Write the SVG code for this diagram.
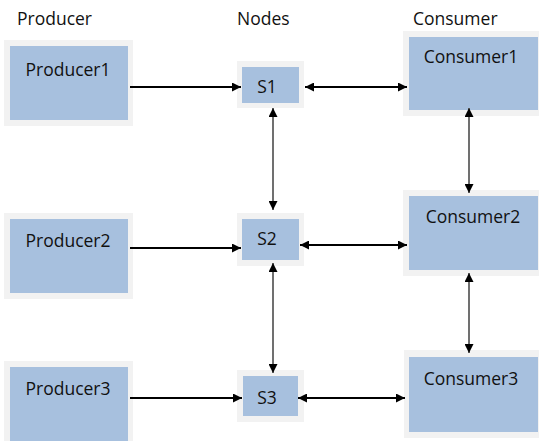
<svg xmlns="http://www.w3.org/2000/svg" width="539" height="441" viewBox="0 0 539 441">
<style>
.o{fill:#f2f2f2}
.i{fill:#a7c0de}
text{font-family:"Open Sans","Noto Sans","Liberation Sans",sans-serif;font-size:17.5px;fill:#111}
.c{text-anchor:middle}
.h{stroke:#000;stroke-width:1.8;fill:none}
.v{stroke:#707070;stroke-width:2;fill:none}
</style>
<defs>
<marker id="ah" viewBox="0 0 10 10" refX="10" refY="5" markerWidth="10" markerHeight="9" markerUnits="userSpaceOnUse" orient="auto-start-reverse">
<path d="M0,0 L10,5 L0,10 z" fill="#000"/>
</marker>
</defs>
<rect width="539" height="441" fill="#fff"/>
<g id="headers">
<text x="17" y="25">Producer</text>
<text x="237" y="25">Nodes</text>
<text x="413" y="25">Consumer</text>
</g>
<g id="producer1"><rect class="o" x="4" y="40" width="129" height="86"/><rect class="i" x="10" y="46" width="118" height="74"/><text class="c" x="68" y="76">Producer1</text></g>
<g id="producer2"><rect class="o" x="4" y="213" width="129" height="86"/><rect class="i" x="10" y="219" width="118" height="74"/><text class="c" x="68" y="247">Producer2</text></g>
<g id="producer3"><rect class="o" x="4" y="361" width="129" height="80"/><rect class="i" x="10" y="367" width="118" height="74"/><text class="c" x="68" y="395">Producer3</text></g>
<g id="s1"><rect class="o" x="237" y="61" width="67" height="47"/><rect class="i" x="242" y="67" width="57" height="36"/><text class="c" x="267" y="93">S1</text></g>
<g id="s2"><rect class="o" x="237" y="213" width="67" height="53"/><rect class="i" x="242" y="219" width="57" height="41"/><text class="c" x="267" y="245">S2</text></g>
<g id="s3"><rect class="o" x="237" y="370" width="67" height="52"/><rect class="i" x="243" y="376" width="55" height="40"/><text class="c" x="267" y="404">S3</text></g>
<g id="consumer1"><rect class="o" x="403" y="31" width="136" height="85"/><rect class="i" x="409" y="37" width="129" height="73"/><text class="c" x="471" y="63">Consumer1</text></g>
<g id="consumer2"><rect class="o" x="403" y="190" width="136" height="86"/><rect class="i" x="409" y="196" width="129" height="74"/><text class="c" x="473" y="223">Consumer2</text></g>
<g id="consumer3"><rect class="o" x="404" y="350" width="135" height="88"/><rect class="i" x="409" y="357" width="129" height="75"/><text class="c" x="471" y="385">Consumer3</text></g>
<g id="connectors">
<path class="h" d="M130,87 H241" marker-end="url(#ah)"/>
<path class="h" d="M305,87 H407" marker-start="url(#ah)" marker-end="url(#ah)"/>
<path class="h" d="M130,248 H241" marker-end="url(#ah)"/>
<path class="h" d="M300,245 H407" marker-start="url(#ah)" marker-end="url(#ah)"/>
<path class="h" d="M130,398 H242" marker-end="url(#ah)"/>
<path class="h" d="M298,398 H405" marker-start="url(#ah)" marker-end="url(#ah)"/>
<path class="v" d="M273,108 V210" marker-start="url(#ah)" marker-end="url(#ah)"/>
<path class="v" d="M273,263 V373" marker-start="url(#ah)" marker-end="url(#ah)"/>
<path class="v" d="M469,108 V193" marker-start="url(#ah)" marker-end="url(#ah)"/>
<path class="v" d="M469,273 V353" marker-start="url(#ah)" marker-end="url(#ah)"/>
</g>
</svg>
